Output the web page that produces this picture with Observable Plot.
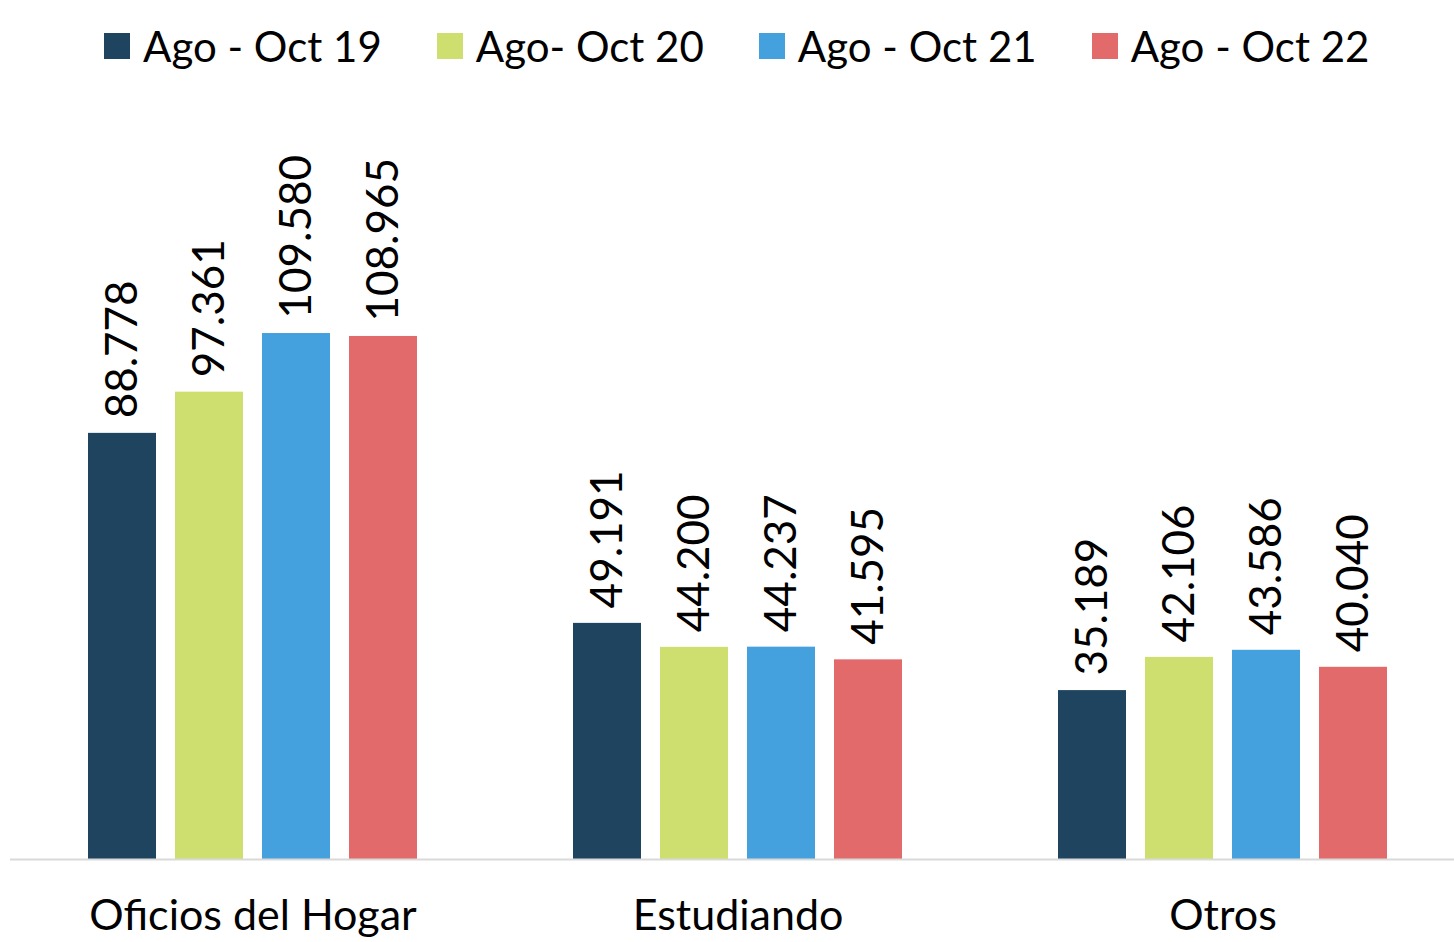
<!DOCTYPE html>
<html>
<head>
<meta charset="utf-8">
<script src="https://cdn.jsdelivr.net/npm/d3@7"></script>
<script src="https://cdn.jsdelivr.net/npm/@observablehq/plot@0.6"></script>
<style>
  html, body { margin: 0; padding: 0; background: #fff; overflow: hidden; }
  #wrap { position: relative; width: 1454px; height: 942px; overflow: hidden; }
  #chart { position: absolute; left: -1px; top: 0; width: 1466px; }
  #chart svg { max-width: none !important; width: 1466px !important; height: 942px !important; }
  #legend { position: absolute; left: 104px; top: 21px; display: flex; align-items: center;
            font-family: Lato, "Open Sans", sans-serif; font-size: 42px; color: #000; white-space: nowrap; }
  .item { display: flex; align-items: center; margin-right: 55px; }
  .sw { width: 26px; height: 26px; margin-right: 13px; }
</style>
</head>
<body>
<div id="wrap">
  <div id="chart"></div>
  <div id="legend"></div>
</div>
<script>
const categories = ["Oficios del Hogar", "Estudiando", "Otros"];
const series = ["Ago - Oct 19", "Ago- Oct 20", "Ago - Oct 21", "Ago - Oct 22"];
const colors = ["#1f445f", "#cfdf6f", "#45a1dd", "#e26a6a"];
const values19 = [88778, 49191, 35189];
const values20 = [97361, 44200, 42106];
const values21 = [109580, 44237, 43586];
const values22 = [108965, 41595, 40040];

const allValues = [values19, values20, values21, values22];
const data = [];
series.forEach((s, si) => {
  categories.forEach((c, ci) => {
    data.push({ category: c, series: s, value: allValues[si][ci] });
  });
});

const fmt = d3.formatLocale({ decimal: ",", thousands: ".", grouping: [3] }).format(",");

const chart = Plot.plot({
  width: 1466,
  height: 942,
  marginLeft: 11,
  marginRight: 0,
  marginTop: 139,
  marginBottom: 83,
  style: { fontFamily: "Lato, 'Open Sans', sans-serif", background: "#fff", color: "#000" },
  fx: { domain: categories, padding: 0, label: null },
  x: { domain: series, paddingInner: 0.216, paddingOuter: 0.864, axis: null },
  y: { domain: [0, 150000], axis: null },
  color: { domain: series, range: colors },
  marks: [
    Plot.barY(data, { fx: "category", x: "series", y: "value", fill: "series" }),
    Plot.text(data, {
      fx: "category", x: "series", y: "value", text: d => fmt(d.value),
      rotate: -90, textAnchor: "start", lineAnchor: "middle", dy: -15,
      fontSize: 44, fill: "#000"
    }),
    Plot.ruleY([0], { stroke: "#d9d9d9", strokeWidth: 2 }),
    Plot.axisFx({ anchor: "bottom", tickSize: 0, tickPadding: 40, fontSize: 43, label: null, lineAnchor: "top" })
  ]
});
document.getElementById("chart").appendChild(chart);

const legend = document.getElementById("legend");
series.forEach((s, i) => {
  const item = document.createElement("div");
  item.className = "item";
  const sw = document.createElement("div");
  sw.className = "sw";
  sw.style.background = colors[i];
  const t = document.createElement("span");
  t.textContent = s;
  item.appendChild(sw);
  item.appendChild(t);
  legend.appendChild(item);
});
</script>
</body>
</html>
